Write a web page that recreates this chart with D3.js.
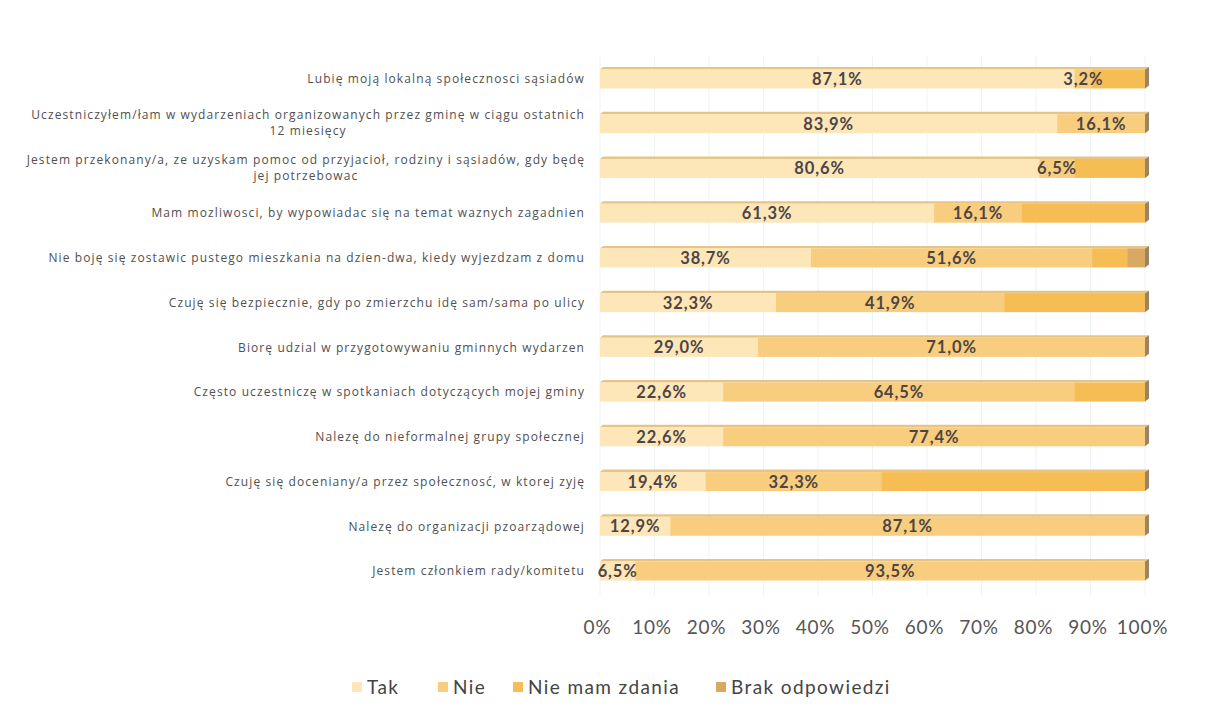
<!DOCTYPE html>
<html>
<head>
<meta charset="utf-8">
<script src="https://cdn.jsdelivr.net/npm/d3@7"></script>
<style>
  html, body { margin: 0; padding: 0; background: #ffffff; }
  svg { display: block; }
</style>
</head>
<body>
<svg id="chart" width="1215" height="715"></svg>
<script>
const categories = [
  ["Lubię moją lokalną społecznosci sąsiadów"],
  ["Uczestniczyłem/łam w wydarzeniach organizowanych przez gminę w ciągu ostatnich", "12 miesięcy"],
  ["Jestem przekonany/a, ze uzyskam pomoc od przyjacioł, rodziny i sąsiadów, gdy będę", "jej potrzebowac"],
  ["Mam mozliwosci, by wypowiadac się na temat waznych zagadnien"],
  ["Nie boję się zostawic pustego mieszkania na dzien-dwa, kiedy wyjezdzam z domu"],
  ["Czuję się bezpiecznie, gdy po zmierzchu idę sam/sama po ulicy"],
  ["Biorę udzial w przygotowywaniu gminnych wydarzen"],
  ["Często uczestniczę w spotkaniach dotyczących mojej gminy"],
  ["Nalezę do nieformalnej grupy społecznej"],
  ["Czuję się doceniany/a przez społecznosć, w ktorej zyję"],
  ["Nalezę do organizacji pzoarządowej"],
  ["Jestem członkiem rady/komitetu"]
];
const seriesNames = ["Tak", "Nie", "Nie mam zdania", "Brak odpowiedzi"];
const tak    = [87.1, 83.9, 80.6, 61.3, 38.7, 32.3, 29.0, 22.6, 22.6, 19.4, 12.9, 6.5];
const nie    = [3.2, 16.1, 6.5, 16.1, 51.6, 41.9, 71.0, 64.5, 77.4, 32.3, 87.1, 93.5];
const nieMam = [9.7, 0, 12.9, 22.6, 6.5, 25.8, 0, 12.9, 0, 48.3, 0, 0];
const brak   = [0, 0, 0, 0, 3.2, 0, 0, 0, 0, 0, 0, 0];
const labelledSeries = ["Tak", "Nie"];
const tickValues = [0, 10, 20, 30, 40, 50, 60, 70, 80, 90, 100];

const colors = {
  "Tak": "#fde6b8",
  "Nie": "#f9cd7e",
  "Nie mam zdania": "#f7bd55",
  "Brak odpowiedzi": "#d9a862"
};
const seriesValues = [tak, nie, nieMam, brak];

const svg = d3.select("#chart");
const x = d3.scaleLinear().domain([0, 100]).range([600, 1145]);
const ids = categories.map((c, i) => i);
const y = d3.scalePoint().domain(ids).range([56.6, 593.4]).padding(0.5);
const barH = 19;

// faint gridlines
svg.append("g").selectAll("line").data(tickValues).join("line")
  .attr("x1", d => x(d)).attr("x2", d => x(d))
  .attr("y1", 56).attr("y2", 596)
  .attr("stroke", "#eef3f6").attr("stroke-width", 1);

// stacked data
const rows = ids.map(i => {
  let acc = 0;
  return seriesNames.map((s, k) => {
    const v = seriesValues[k][i];
    const seg = { row: i, series: s, v, x0: acc, x1: acc + v };
    acc += v;
    return seg;
  }).filter(d => d.v > 0);
});
const segs = rows.flat();

const barsG = svg.append("g");
// top face (3D edge)
barsG.selectAll("path.top").data(ids).join("path")
  .attr("class", "top")
  .attr("d", i => {
    const yt = y(i) - barH / 2;
    return `M${x(0)},${yt} L${x(0) + 3},${yt - 2.5} L${x(100) + 4},${yt - 2.5} L${x(100)},${yt} Z`;
  })
  .attr("fill", "#e6c486");

barsG.selectAll("rect.seg").data(segs).join("rect")
  .attr("class", "seg")
  .attr("x", d => x(d.x0))
  .attr("width", d => x(d.x1) - x(d.x0) + 0.5)
  .attr("y", d => y(d.row) - barH / 2)
  .attr("height", barH)
  .attr("fill", d => colors[d.series]);

// right end cap
barsG.selectAll("path.cap").data(ids).join("path")
  .attr("class", "cap")
  .attr("d", i => {
    const yt = y(i) - barH / 2;
    return `M${x(100)},${yt} L${x(100) + 4},${yt - 2.5} L${x(100) + 4},${yt + barH - 3} L${x(100)},${yt + barH} Z`;
  })
  .attr("fill", "#9a8461");

// value labels
const fmt = v => d3.format(".1f")(v).replace(".", ",") + "%";
svg.append("g").selectAll("text").data(segs.filter(d => labelledSeries.includes(d.series)))
  .join("text")
  .attr("x", d => x((d.x0 + d.x1) / 2))
  .attr("y", d => y(d.row))
  .attr("dy", "0.36em")
  .attr("text-anchor", "middle")
  .attr("font-family", "Lato, 'Open Sans', sans-serif")
  .attr("font-weight", "bold")
  .attr("font-size", 16.5)
  .attr("letter-spacing", 0.9)
  .attr("fill", "#4d4545")
  .text(d => fmt(d.v));

// category labels
const catG = svg.append("g")
  .attr("font-family", "'Open Sans', 'DejaVu Sans', sans-serif")
  .attr("font-size", 12)
  .attr("letter-spacing", 1.1)
  .attr("fill", "#505050");
const labelRight = 585;
ids.forEach(i => {
  const lines = categories[i];
  const t = catG.append("text");
  if (lines.length === 1) {
    t.attr("x", labelRight).attr("y", y(i)).attr("dy", "0.36em")
      .attr("text-anchor", "end").text(lines[0]);
  } else {
    const lineH = 16;
    const spans = lines.map((ln, k) => t.append("tspan")
      .attr("y", y(i) - lineH / 2 + k * lineH - 1)
      .attr("dy", "0.36em")
      .text(ln));
    const maxW = d3.max(spans, s => s.node().getComputedTextLength());
    t.attr("text-anchor", "middle");
    spans.forEach(s => s.attr("x", labelRight - maxW / 2));
  }
});

// x axis
const axis = d3.axisBottom(x).tickValues(tickValues).tickSize(0).tickPadding(0)
  .tickFormat(d => d + "%");
const axG = svg.append("g").attr("transform", "translate(-3,620)").call(axis);
axG.select(".domain").remove();
axG.selectAll("text")
  .attr("font-family", "Lato, 'Open Sans', sans-serif")
  .attr("font-size", 19)
  .attr("letter-spacing", 0.8)
  .attr("fill", "#555555");

// legend
const legendX = [352, 438, 513, 716];
const lg = svg.append("g");
seriesNames.forEach((s, k) => {
  lg.append("rect").attr("x", legendX[k]).attr("y", 682).attr("width", 10).attr("height", 10)
    .attr("fill", colors[s]);
  lg.append("text").attr("x", legendX[k] + 15).attr("y", 687).attr("dy", "0.36em")
    .attr("font-family", "Lato, 'Open Sans', sans-serif")
    .attr("font-size", 19)
    .attr("letter-spacing", 1.4)
    .attr("fill", "#444444")
    .text(s);
});
</script>
</body>
</html>
